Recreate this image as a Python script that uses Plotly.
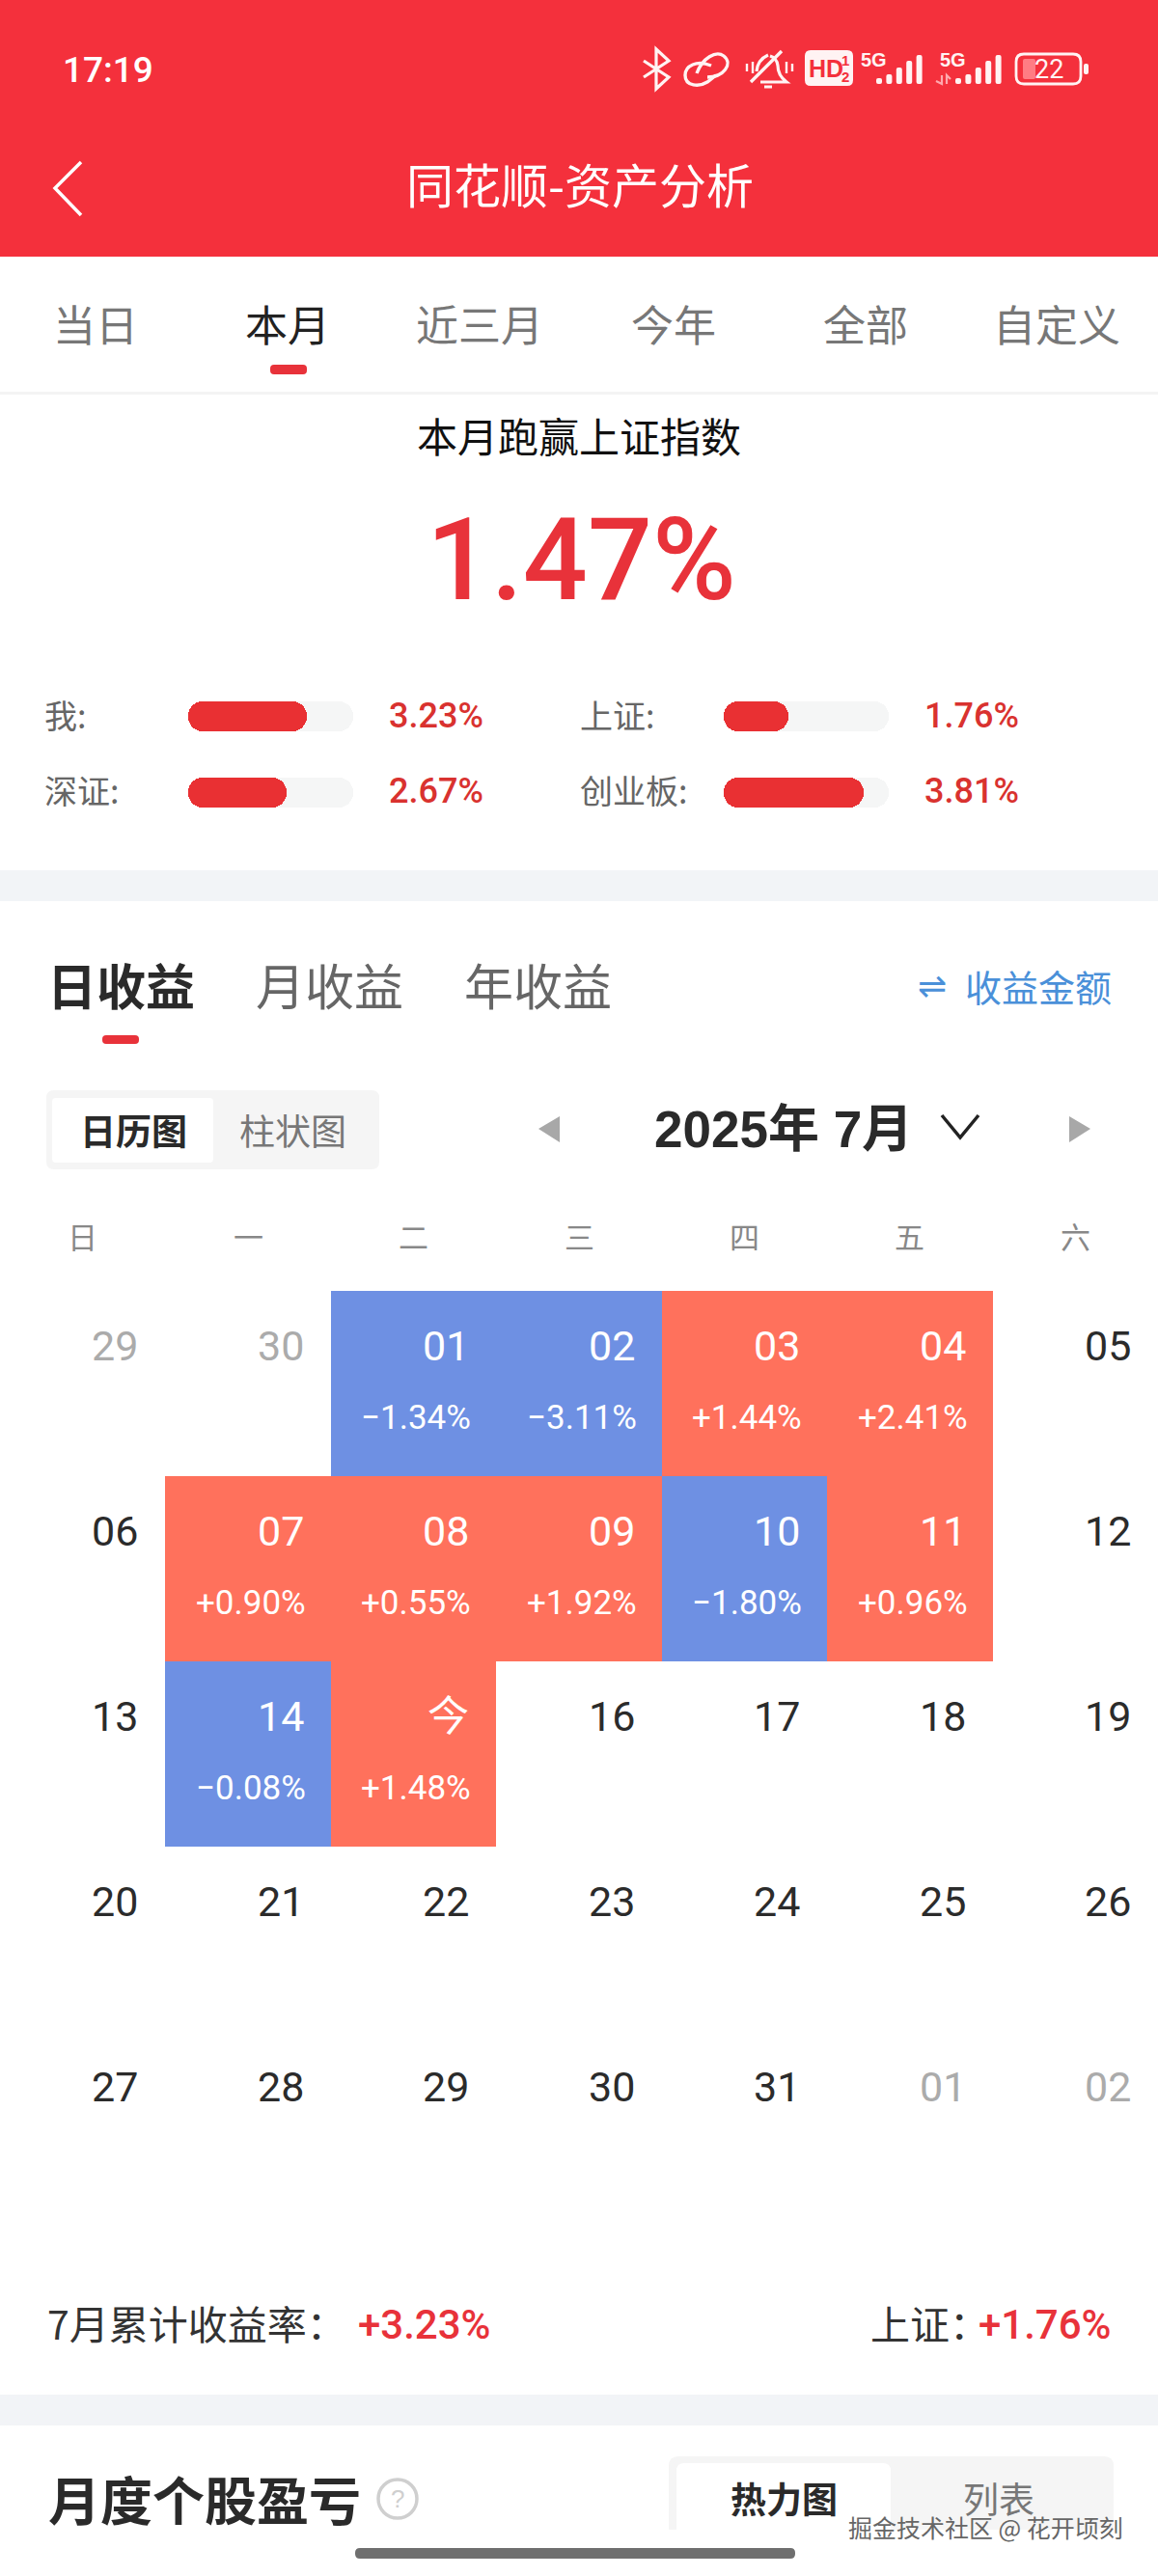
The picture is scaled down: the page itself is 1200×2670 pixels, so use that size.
import plotly.graph_objects as go

# ---------- data ----------
compare_left_names = ["我", "深证"]
compare_left_values = [3.23, 2.67]
compare_right_names = ["上证", "创业板"]
compare_right_values = [1.76, 3.81]
compare_track = 4.49

weekday_labels = ["日", "一", "二", "三", "四", "五", "六"]
day_labels = [
    ["29", "30", "01", "02", "03", "04", "05"],
    ["06", "07", "08", "09", "10", "11", "12"],
    ["13", "14", "今", "16", "17", "18", "19"],
    ["20", "21", "22", "23", "24", "25", "26"],
    ["27", "28", "29", "30", "31", "01", "02"],
]
daily_returns = [
    [None, None, -1.34, -3.11, 1.44, 2.41, None],
    [None, 0.90, 0.55, 1.92, -1.80, 0.96, None],
    [None, -0.08, 1.48, None, None, None, None],
    [None] * 7,
    [None] * 7,
]
muted_days = [(0, 0), (0, 1), (4, 5), (4, 6)]
period_tabs = ["当日", "本月", "近三月", "今年", "全部", "自定义"]
beat_value = 1.47
month_total = 3.23
index_total = 1.76

# ---------- palette ----------
HEADER = "#F4303C"
RED = "#E8323A"
RED_TXT = "#D9322F"
UP = "#FF715C"
DOWN = "#6E90E3"
BAND = "#F2F4F7"
TRACK = "#F5F6F6"
CJK = "Noto Sans CJK SC"
NUM = "Roboto"
W, H = 1200, 2670

fig = go.Figure()


def dom(top, bottom):
    return [(H - bottom) / H, (H - top) / H]


def label(x, y, text, size, color="#333333", anchor="center", family=CJK, weight=None, vanchor="middle"):
    font = dict(size=size, color=color, family=family)
    if weight:
        font["weight"] = weight
    if family == CJK:
        y = y - 3
    fig.add_annotation(x=x, y=y, xref="x", yref="y", text=text, showarrow=False, xanchor=anchor,
                       yanchor=vanchor, font=font, borderpad=0, borderwidth=0)


def box(x0, y0, x1, y1, color, layer="below"):
    fig.add_shape(type="rect", x0=x0, y0=y0, x1=x1, y1=y1, xref="x", yref="y",
                  fillcolor=color, line_width=0, layer=layer)


def rounded(x0, y0, x1, y1, r, color, layer="below"):
    p = (f"M{x0+r},{y0} L{x1-r},{y0} Q{x1},{y0} {x1},{y0+r} L{x1},{y1-r} Q{x1},{y1} {x1-r},{y1} "
         f"L{x0+r},{y1} Q{x0},{y1} {x0},{y1-r} L{x0},{y0+r} Q{x0},{y0} {x0+r},{y0} Z")
    fig.add_shape(type="path", path=p, xref="x", yref="y", fillcolor=color, line_width=0, layer=layer)


def stroke(path, color, width, fill=None, layer="above"):
    fig.add_shape(type="path", path=path, xref="x", yref="y", line=dict(color=color, width=width),
                  fillcolor=fill if fill else "rgba(0,0,0,0)", layer=layer)


# ---------- page frame ----------
box(0, 0, W, 266, HEADER)
box(0, 406, W, 409, "#F4F4F4")
box(0, 902, W, 934, BAND)
box(0, 2482, W, 2514, BAND)

# ---------- status bar ----------
label(65, 72, "17:19", 37, "#FFFFFF", "left", "Roboto", 500)
white = "#FFF3F3"
stroke("M667,63 L693,80 L680,92 L680,51 L693,63 L667,80", white, 3.2)                 # bluetooth
stroke("M737,68 C722,62 710,68 710,78 C710,90 725,90 733,85 L742,78", white, 3.4)     # link
stroke("M722,76 C728,60 742,52 750,58 C760,66 750,80 733,80", white, 3.4)
stroke("M788,85 L815,85 Q806,78 806,68 Q805,60 798,58", white, 3.2)                   # bell
stroke("M784,74 Q785,62 796,57", white, 3.2)
stroke("M778,85 L810,53", white, 3.4)
stroke("M774,66 L774,74 M780,64 L780,76 M815,64 L815,76 M821,66 L821,74", white, 2.4)
stroke("M792,90 L800,90", white, 3)
rounded(834, 52, 884, 89, 6, white, "above")
label(838, 71, "HD", 25, HEADER, "left", "Liberation Sans", 700)
label(876, 62, "1", 15, HEADER, "center", "Liberation Sans", 700)
label(876, 79, "2", 15, HEADER, "center", "Liberation Sans", 700)
label(905, 62, "5G", 20, white, "center", "Liberation Sans", 700)
for i, top in enumerate([81, 77, 70, 63, 57]):
    rounded(908 + i * 10.4, top, 914 + i * 10.4, 87, 2, white, "above")
label(987, 62, "5G", 20, white, "center", "Liberation Sans", 700)
stroke("M976,78 L976,87 L970,84 M981,87 L981,78 L985,82", "#FFA9AE", 2.2)
for i, top in enumerate([81, 77, 70, 63, 57]):
    rounded(990 + i * 10.4, top, 996 + i * 10.4, 87, 2, white, "above")
stroke("M1061,56 L1112,56 Q1120,56 1120,64 L1120,79 Q1120,87 1112,87 L1061,87 Q1053,87 1053,79 L1053,64 Q1053,56 1061,56 Z", white, 2.8)
rounded(1060, 61, 1073, 82, 2, "#FF7C84", "above")
rounded(1123, 66, 1128, 77, 2, white, "above")
label(1087, 72, "22", 27, white, "center", "Roboto")

# ---------- navigation ----------
stroke("M84,168 L57,195 L84,223", "#FFFFFF", 3.5)
label(601, 192, "同花顺-资产分析", 49, "#FFFFFF", weight=400)

tab_x = [99, 298, 497, 698, 897, 1095]
for i, (tx, t) in enumerate(zip(tab_x, period_tabs)):
    label(tx, 338, t, 44, "#222222" if i == 1 else "#777777", weight=400)
rounded(280, 378, 318, 388, 4, RED, "above")

# ---------- beat summary ----------
label(600, 453, "本月跑赢上证指数", 42, "#111111")
label(602, 581, f"{beat_value:.2f}%", 118, RED, family=NUM, weight=500)

# ---------- compare bars, drawn on their own axes ----------
for axis_id, names, values, xdom in [
    ("3", compare_left_names, compare_left_values, [195 / W, 366 / W]),
    ("4", compare_right_names, compare_right_values, [750 / W, 921 / W]),
]:
    common = dict(y=names, orientation="h", xaxis=f"x{axis_id}", yaxis=f"y{axis_id}", width=0.38,
                  base=[0, 0], hoverinfo="skip", showlegend=False)
    fig.add_trace(go.Bar(x=[compare_track] * 2, marker=dict(color=TRACK, cornerradius=15, line_width=0), **common))
    fig.add_trace(go.Bar(x=values, marker=dict(color="#E93033", cornerradius=15, line_width=0), **common))
    fig.update_layout({
        f"xaxis{axis_id}": dict(domain=xdom, range=[0, compare_track], visible=False, fixedrange=True, anchor=f"y{axis_id}"),
        f"yaxis{axis_id}": dict(domain=dom(703, 861), range=[1.5, -0.5], visible=False, fixedrange=True,
                                anchor=f"x{axis_id}", type="category", categoryorder="array", categoryarray=names),
    })

for name, value, ty, lx, vx in [
    (compare_left_names[0], compare_left_values[0], 743, 46, 403),
    (compare_left_names[1], compare_left_values[1], 821, 46, 403),
    (compare_right_names[0], compare_right_values[0], 743, 601, 958),
    (compare_right_names[1], compare_right_values[1], 821, 601, 958),
]:
    label(lx, ty, name + ":", 34, "#666666", "left")
    label(vx, ty - 1, f"{value:.2f}%", 36, RED_TXT, "left", NUM, 500)

# ---------- section header ----------
label(49, 1023, "日收益", 51, "#2A2A2A", "left", weight=700)
label(265, 1023, "月收益", 51, "#666666", "left", weight=400)
label(481, 1023, "年收益", 51, "#666666", "left", weight=400)
rounded(106, 1073, 144, 1082, 4, RED, "above")
label(966, 1021, "⇌", 36, "#4A90D9", family="DejaVu Sans")
label(1152, 1024, "收益金额", 38, "#4A90D9", "right")

rounded(48, 1130, 393, 1212, 8, "#F5F5F5")
rounded(54, 1138, 221, 1205, 4, "#FFFFFF")
label(138, 1174, "日历图", 37, "#2A2A2A", weight=700)
label(303, 1174, "柱状图", 37, "#777777")
label(812, 1170, "2025年 7月", 53, "#2A2A2A", family="Liberation Sans, " + CJK, weight=700)
fig.add_shape(type="path", path="M580,1157 L580,1184 L558,1170 Z", xref="x", yref="y", fillcolor="#A8A8A8", line_width=0)
fig.add_shape(type="path", path="M1108,1157 L1108,1184 L1130,1170 Z", xref="x", yref="y", fillcolor="#A8A8A8", line_width=0)
stroke("M976,1156 L995,1179 L1014,1156", "#222222", 3.5)

# ---------- calendar, drawn as a heatmap on its own axes ----------
fig.add_trace(go.Heatmap(
    z=daily_returns, x=list(range(7)), y=list(range(5)),
    xaxis="x2", yaxis="y2", xgap=0, ygap=0, zmin=-4, zmax=4, showscale=False, hoverinfo="skip",
    colorscale=[[0, DOWN], [0.5, DOWN], [0.5, UP], [1, UP]],
))
fig.update_layout(
    xaxis2=dict(domain=[0, 1], range=[-0.5, 6.5], visible=False, fixedrange=True, anchor="y2"),
    yaxis2=dict(domain=dom(1338, 2298), range=[4.5, -0.5], visible=False, fixedrange=True, anchor="x2"),
)
for c, wd in enumerate(weekday_labels):
    fig.add_annotation(x=c, y=-0.5, xref="x2", yref="y2", text=wd, showarrow=False, yshift=57,
                       font=dict(size=31, color="#888888", family=CJK))
for r, row in enumerate(day_labels):
    for c, d in enumerate(row):
        val = daily_returns[r][c]
        if val is not None:
            col = "#FFFFFF"
        elif (r, c) in muted_days:
            col = "#ABABAB"
        else:
            col = "#2B2B2B"
        fig.add_annotation(x=c + 0.5, y=r, xref="x2", yref="y2", text=d, showarrow=False, xanchor="right",
                           xshift=-26, yshift=39, font=dict(size=43, color=col, family=NUM + ", " + CJK))
        if val is not None:
            fig.add_annotation(x=c + 0.5, y=r, xref="x2", yref="y2", text=f"{val:+.2f}%".replace("-", "−"),
                               showarrow=False, xanchor="right", xshift=-24, yshift=-36,
                               font=dict(size=35, color="#FFFFFF", family=NUM))

# ---------- month summary ----------
label(49, 2410, "7月累计收益率：", 41, "#333333", "left", CJK)
label(371, 2409, f"{month_total:+.2f}%", 42, RED, "left", NUM, 500)
label(902, 2410, "上证：", 41, "#333333", "left", CJK)
label(1152, 2409, f"{index_total:+.2f}%", 42, RED, "right", NUM, 500)

# ---------- next section ----------
label(50, 2592, "月度个股盈亏", 54, "#2A2A2A", "left", weight=700)
fig.add_shape(type="circle", x0=392, y0=2570, x1=432, y1=2610, xref="x", yref="y", line=dict(color="#CFCFCF", width=3.5))
label(412, 2590, "?", 26, "#CFCFCF", family="Liberation Sans")
rounded(693, 2546, 1154, 2630, 10, "#F5F5F5")
rounded(701, 2553, 923, 2640, 8, "#FFFFFF")
box(693, 2622, 1154, 2670, "#FFFFFF")
label(812, 2592, "热力图", 37, "#2A2A2A", weight=700)
label(1035, 2592, "列表", 37, "#777777")
label(1021, 2622, "掘金技术社区 @ 花开顷刻", 25, "#666666")
rounded(368, 2641, 824, 2652, 5, "#6F6F6F", "above")

fig.update_layout(
    width=W, height=H, autosize=False,
    margin=dict(l=0, r=0, t=0, b=0, pad=0),
    paper_bgcolor="#FFFFFF", plot_bgcolor="rgba(0,0,0,0)",
    barmode="overlay", bargap=0,
    xaxis=dict(domain=[0, 1], range=[0, W], visible=False, fixedrange=True),
    yaxis=dict(domain=[0, 1], range=[H, 0], visible=False, fixedrange=True),
    showlegend=False,
)
fig.write_html("out.html", config={"displayModeBar": False},
               post_script="document.body.style.margin='0';document.body.style.overflow='hidden';")
